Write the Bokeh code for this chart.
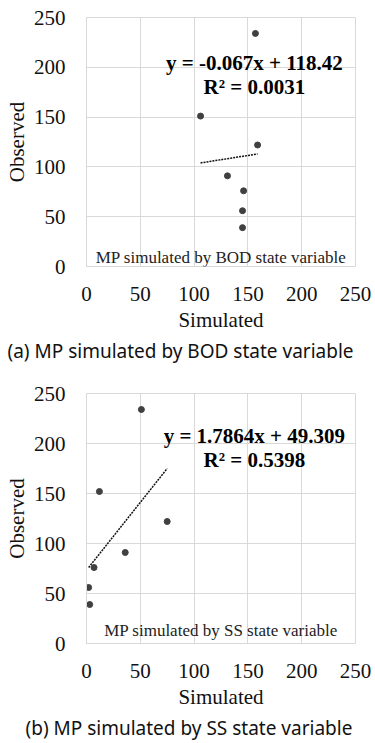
from bokeh.plotting import figure
from bokeh.layouts import column
from bokeh.models import Title, Label, FixedTicker, Range1d
from bokeh.embed import file_html
from bokeh.resources import INLINE

# ---- data ----
bod_sim = [157, 106, 159, 131, 146, 145, 145]
bod_obs = [234, 151, 122, 91, 76, 56, 39]
bod_trend_x = [106, 159]
bod_trend_y = [104, 113]
bod_eq = "y = -0.067x + 118.42"
bod_r2 = "R² = 0.0031"
bod_label = "MP simulated by BOD state variable"
bod_caption = "(a) MP simulated by BOD state variable"

ss_sim = [51, 12, 75, 36, 7, 2, 3]
ss_obs = [234, 152, 122, 91, 76, 56, 39]
ss_trend_x = [2, 75]
ss_trend_y = [76, 175]
ss_eq = "y = 1.7864x + 49.309"
ss_r2 = "R² = 0.5398"
ss_label = "MP simulated by SS state variable"
ss_caption = "(b) MP simulated by SS state variable"

ticks = [0, 50, 100, 150, 200, 250]

SERIF = "Liberation Serif"
GRID = "#d9d9d9"


def make(sim, obs, tx, ty, eq, r2, label, caption, eq_y, lab_y, cap_offset, top, fh, bottom):
    p = figure(frame_width=269, frame_height=fh, min_border_left=86, min_border_right=20,
               min_border_top=top, min_border_bottom=bottom,
               x_range=Range1d(0, 250), y_range=Range1d(0, 250),
               output_backend="svg", toolbar_location=None,
               background_fill_color="white", border_fill_color="white")
    p.outline_line_color = GRID
    for ax in (p.xaxis[0], p.yaxis[0]):
        ax.ticker = FixedTicker(ticks=ticks)
        ax.axis_line_color = GRID
        ax.major_tick_line_color = None
        ax.minor_tick_line_color = None
        ax.major_label_text_font = SERIF
        ax.major_label_text_font_size = "21px"
        ax.major_label_text_color = "#111111"
        ax.axis_label_text_font = SERIF
        ax.axis_label_text_font_size = "21px"
        ax.axis_label_text_font_style = "normal"
        ax.axis_label_text_color = "#111111"
    p.xaxis.axis_label = "Simulated"
    p.yaxis.axis_label = "Observed"
    p.xaxis.major_label_standoff = 14
    p.xaxis.axis_label_standoff = 4
    p.yaxis.major_label_standoff = 15
    p.yaxis.axis_label_standoff = 2
    p.xgrid.ticker = FixedTicker(ticks=ticks)
    p.ygrid.ticker = FixedTicker(ticks=ticks)
    p.xgrid.grid_line_color = GRID
    p.ygrid.grid_line_color = GRID

    p.line(tx, ty, line_color="#111111", line_width=1.5, line_dash="2 1")
    p.scatter(sim, obs, size=6, fill_color="#404040", line_color="#404040")

    p.add_layout(Label(x=156, y=eq_y, text=eq, text_font=SERIF, text_font_size="21px",
                       text_font_style="bold", text_align="center", text_baseline="middle",
                       text_color="#000000"))
    p.add_layout(Label(x=156, y=eq_y - 24, text=r2, text_font=SERIF, text_font_size="21px",
                       text_font_style="bold", text_align="center", text_baseline="middle",
                       text_color="#000000"))
    p.add_layout(Label(x=125, y=lab_y, text=label, text_font=SERIF, text_font_size="17px",
                       text_align="center", text_baseline="middle", text_color="#222222"))

    t = Title(text=caption, text_font="Noto Sans", text_font_size="19px",
              text_font_style="normal", align="left", text_color="#111111",
              standoff=2, offset=cap_offset)
    p.add_layout(t, "below")
    return p


p1 = make(bod_sim, bod_obs, bod_trend_x, bod_trend_y, bod_eq, bod_r2, bod_label,
          bod_caption, 204, 9, -79, 17, 249, 104)
p2 = make(ss_sim, ss_obs, ss_trend_x, ss_trend_y, ss_eq, ss_r2, ss_label,
          ss_caption, 208, 13, -61, 23, 250, 100)

layout = column(p1, p2, spacing=0)
open("out.html", "w").write(file_html(layout, INLINE))
